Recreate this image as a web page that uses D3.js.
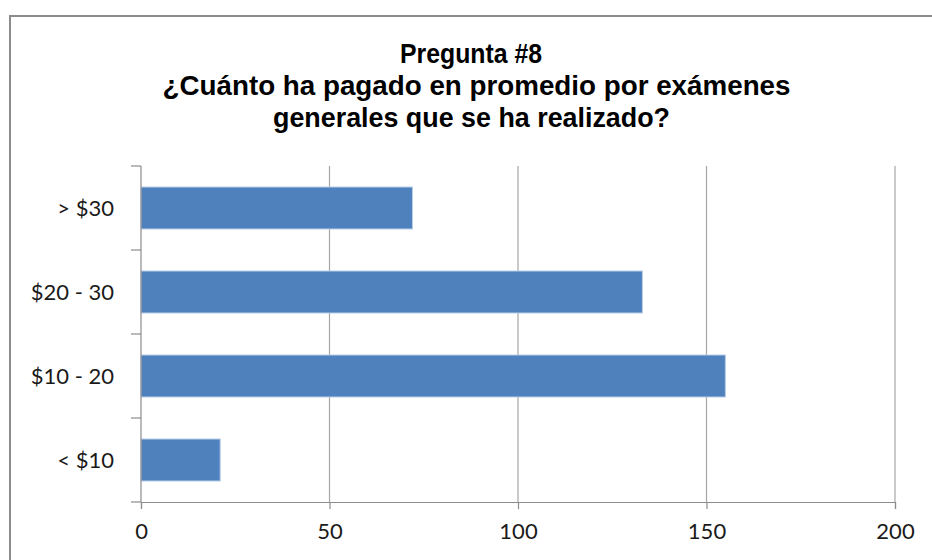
<!DOCTYPE html>
<html>
<head>
<meta charset="utf-8">
<script src="https://cdn.jsdelivr.net/npm/d3@7"></script>
<style>
  body { margin: 0; background: #fff; }
</style>
</head>
<body>
<div class="chart"></div>
<script>
// data
var categories = ["> $30", "$20 - 30", "$10 - 20", "< $10"];
var values = [72, 133, 155, 21];
var xTicks = [0, 50, 100, 150, 200];
var titleLines = [
  "Pregunta #8",
  "¿Cuánto ha pagado en promedio por exámenes",
  "generales que se ha realizado?"
];
// measured width / centre of each title line in the picture
var titleWidths = [142, 628, 397];
var titleCenters = [471, 476.5, 471.5];

var svgWidth = 932;
var svgHeight = 560;

var margin = { top: 166, bottom: 58, right: 37, left: 141 };
var width = svgWidth - margin.left - margin.right;
var height = svgHeight - margin.top - margin.bottom;

var svg = d3.select(".chart")
  .append("svg")
  .attr("width", svgWidth)
  .attr("height", svgHeight);

// chart frame (only top and left edges are visible in the picture)
svg.append("rect")
  .attr("x", 10)
  .attr("y", 16)
  .attr("width", 960)
  .attr("height", 600)
  .attr("fill", "#fff")
  .attr("stroke", "#8c8c8c")
  .attr("stroke-width", 2);

// title
svg.append("g")
  .selectAll("text")
  .data(titleLines)
  .enter()
  .append("text")
  .attr("x", (d, i) => titleCenters[i])
  .attr("y", (d, i) => 63 + i * 32)
  .attr("text-anchor", "middle")
  .attr("font-family", "'Liberation Sans', Arial, sans-serif")
  .attr("font-weight", "bold")
  .attr("font-size", "28px")
  .attr("textLength", (d, i) => titleWidths[i])
  .attr("lengthAdjust", "spacingAndGlyphs")
  .attr("fill", "#000")
  .text(d => d);

var chartGroup = svg.append("g")
  .attr("transform", `translate(${margin.left}, ${margin.top})`);

var xScale = d3.scaleLinear()
  .domain([0, 200])
  .range([0, width]);

var yScale = d3.scaleBand()
  .domain(categories)
  .range([0, height])
  .paddingInner(0.5)
  .paddingOuter(0.25);

// vertical gridlines
chartGroup.append("g")
  .selectAll("line")
  .data(xTicks.slice(1))
  .enter()
  .append("line")
  .attr("x1", d => xScale(d))
  .attr("x2", d => xScale(d))
  .attr("y1", 0)
  .attr("y2", height)
  .attr("stroke", "#a6a6a6")
  .attr("stroke-width", 1.2);

// bars
chartGroup.selectAll("rect.bar")
  .data(values)
  .enter()
  .append("rect")
  .attr("class", "bar")
  .attr("x", xScale(0))
  .attr("y", (d, i) => yScale(categories[i]))
  .attr("width", d => xScale(d) - xScale(0))
  .attr("height", yScale.bandwidth())
  .attr("fill", "#4f81bd")
  .attr("stroke", "#b9cde5")
  .attr("stroke-width", 1);

// x axis
var xAxis = d3.axisBottom(xScale)
  .tickValues(xTicks)
  .tickSize(7)
  .tickPadding(14);

var xg = chartGroup.append("g")
  .attr("transform", `translate(0, ${height})`)
  .call(xAxis);

// y axis, ticks sit on category boundaries
var step = yScale.step();
var boundaries = d3.range(categories.length + 1).map(i => i * step);

var yg = chartGroup.append("g");
yg.append("line")
  .attr("x1", 0).attr("x2", 0)
  .attr("y1", 0).attr("y2", height);
yg.selectAll("line.tick")
  .data(boundaries)
  .enter()
  .append("line")
  .attr("class", "tick")
  .attr("x1", -10).attr("x2", 0)
  .attr("y1", d => d).attr("y2", d => d);
yg.selectAll("text")
  .data(categories)
  .enter()
  .append("text")
  .attr("x", -27)
  .attr("y", d => yScale(d) + yScale.bandwidth() / 2)
  .attr("dy", "0.35em")
  .attr("text-anchor", "end")
  .text(d => d);

// styling of axes
xg.select(".domain").attr("stroke", "#8c8c8c").attr("stroke-width", 1.2);
xg.selectAll(".tick line").attr("stroke", "#8c8c8c").attr("stroke-width", 1.2);
yg.selectAll("line").attr("stroke", "#8c8c8c").attr("stroke-width", 1.2);

xg.selectAll("text")
  .attr("font-family", "Lato, 'Open Sans', sans-serif")
  .attr("font-size", "22px")
  .attr("fill", "#1a1a1a");
yg.selectAll("text")
  .attr("font-family", "Lato, 'Open Sans', sans-serif")
  .attr("font-size", "22px")
  .attr("fill", "#1a1a1a");
</script>
</body>
</html>
